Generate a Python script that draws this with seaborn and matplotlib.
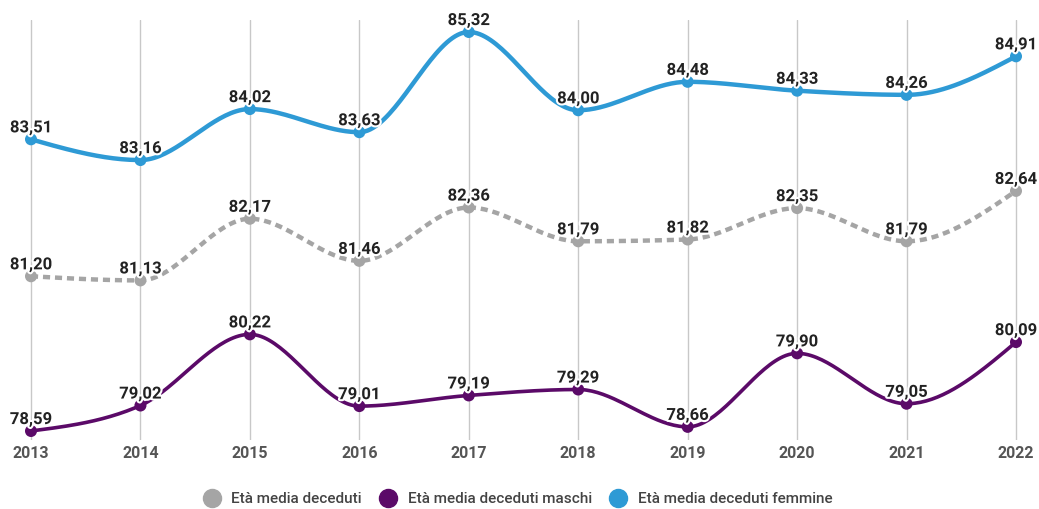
"""Età media dei deceduti 2013-2022: totale, maschi, femmine"""

import numpy as np
import pandas as pd
import matplotlib
matplotlib.use('Agg')
import matplotlib.pyplot as plt
import matplotlib.patheffects as pe
from matplotlib.lines import Line2D
import seaborn as sns

years = [2013, 2014, 2015, 2016, 2017, 2018, 2019, 2020, 2021, 2022]
eta_totale = [81.20, 81.13, 82.17, 81.46, 82.36, 81.79, 81.82, 82.35, 81.79, 82.64]
eta_maschi = [78.59, 79.02, 80.22, 79.01, 79.19, 79.29, 78.66, 79.90, 79.05, 80.09]
eta_femmine = [83.51, 83.16, 84.02, 83.63, 85.32, 84.00, 84.48, 84.33, 84.26, 84.91]

series_names = ['Età media deceduti', 'Età media deceduti maschi', 'Età media deceduti femmine']
colors = ['#a5a5a5', '#5b0a68', '#2e9ad5']


def monotone_curve(x, y, n=40):
    """curva monotona (tipo d3 curveMonotoneX) solo per il disegno della linea"""
    x = np.asarray(x, float)
    y = np.asarray(y, float)
    h = np.diff(x)
    s = np.diff(y) / h
    m = np.zeros_like(y)
    for i in range(1, len(y) - 1):
        if s[i - 1] * s[i] <= 0:
            m[i] = 0.0
        else:
            p = (s[i - 1] * h[i] + s[i] * h[i - 1]) / (h[i - 1] + h[i])
            m[i] = np.sign(s[i]) * min(abs(p), 2 * abs(s[i - 1]), 2 * abs(s[i]))
    m[0] = 1.5 * s[0] - 0.5 * m[1]
    m[-1] = 1.5 * s[-1] - 0.5 * m[-2]
    xs, ys = [], []
    for i in range(len(x) - 1):
        t = np.linspace(0, 1, n, endpoint=(i == len(x) - 2))
        h00 = 2 * t**3 - 3 * t**2 + 1
        h10 = t**3 - 2 * t**2 + t
        h01 = -2 * t**3 + 3 * t**2
        h11 = t**3 - t**2
        xs.append(x[i] + t * h[i])
        ys.append(h00 * y[i] + h10 * h[i] * m[i] + h01 * y[i + 1] + h11 * h[i] * m[i + 1])
    return np.concatenate(xs), np.concatenate(ys)


sns.set_theme(style='white')
plt.rcParams['font.family'] = ['Roboto', 'DejaVu Sans']

fig = plt.figure(figsize=(10.39, 5.09), dpi=100)
ax = fig.add_axes([0, 1 - 440 / 509, 1, 420 / 509])

for x in years:
    ax.axvline(x, color='#c8c8c8', lw=1, zorder=0)

styles = [dict(lw=3.2, ls=(0, (1.6, 1.1))), dict(lw=2.6, ls='-'), dict(lw=3.2, ls='-')]
for vals, col, st in zip([eta_totale, eta_maschi, eta_femmine], colors, styles):
    cx, cy = monotone_curve(years, vals)
    ax.plot(cx, cy, color=col, solid_capstyle='round', dash_capstyle='butt', zorder=2, **st)
    df = pd.DataFrame({'anno': years, 'eta': vals})
    sns.scatterplot(data=df, x='anno', y='eta', color=col, s=75, edgecolor='none',
                    zorder=3, ax=ax, legend=False)
    for x, v in zip(years, vals):
        ax.annotate(f'{v:.2f}'.replace('.', ','), (x, v), xytext=(0, 5),
                    textcoords='offset points', ha='center', va='baseline',
                    fontsize=12, fontweight='bold', color='#222222', zorder=4,
                    path_effects=[pe.withStroke(linewidth=3, foreground='white')])

ax.set_xlim(2013 - 31 / 109.44, 2022 + 23 / 109.44)
ax.set_ylim(78.59 - 9 / 59.29, 85.32 + 12 / 59.29)
ax.set_yticks([])
ax.set_xticks(years)
ax.set_xticklabels([str(y) for y in years], fontsize=11.5, fontweight='bold', color='#555555')
ax.tick_params(axis='x', length=0, pad=4)
ax.set_xlabel('')
ax.set_ylabel('')
sns.despine(ax=ax, left=True, bottom=True)

handles = [Line2D([], [], ls='', marker='o', markersize=13, color=c) for c in colors]
fig.legend(handles, series_names, loc='center', bbox_to_anchor=(0.495, 1 - 499 / 509),
           ncol=3, frameon=False, handletextpad=0.3, columnspacing=0.7,
           labelcolor='#444444', prop={'weight': 'medium', 'size': 11})

fig.savefig('out.png', dpi=100)
plt.close(fig)
